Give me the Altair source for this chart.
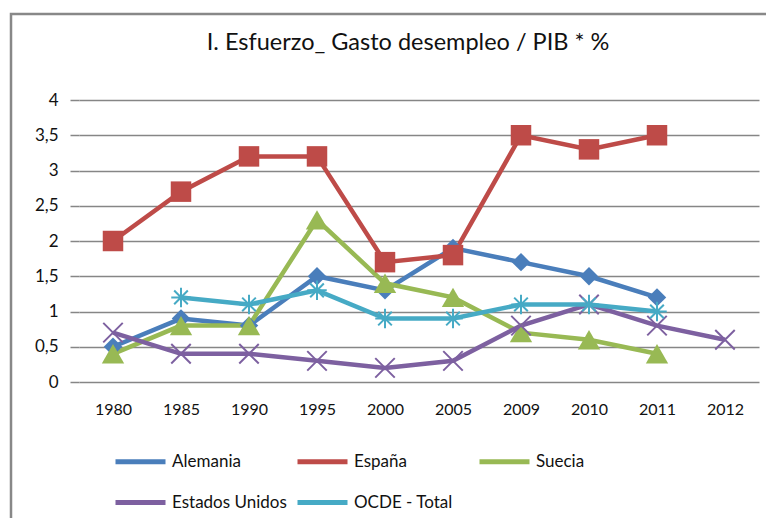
import altair as alt
import pandas as pd

years = ["1980", "1985", "1990", "1995", "2000", "2005", "2009", "2010", "2011", "2012"]
series = ["Alemania", "España", "Suecia", "Estados Unidos", "OCDE - Total"]
colors = ["#4A7EBB", "#BE4B48", "#98B954", "#7D60A0", "#46AAC5"]

alemania = [0.5, 0.9, 0.8, 1.5, 1.3, 1.9, 1.7, 1.5, 1.2, None]
espana = [2.0, 2.7, 3.2, 3.2, 1.7, 1.8, 3.5, 3.3, 3.5, None]
suecia = [0.4, 0.8, 0.8, 2.3, 1.4, 1.2, 0.7, 0.6, 0.4, None]
eeuu = [0.7, 0.4, 0.4, 0.3, 0.2, 0.3, 0.8, 1.1, 0.8, 0.6]
ocde = [None, 1.2, 1.1, 1.3, 0.9, 0.9, 1.1, 1.1, 1.0, None]

y_ticks = [0, 0.5, 1, 1.5, 2, 2.5, 3, 3.5, 4]

rows = []
for name, vals in zip(series, [alemania, espana, suecia, eeuu, ocde]):
    for i, (yr, v) in enumerate(zip(years, vals)):
        if v is not None:
            rows.append({"Año": yr, "Serie": name, "Valor": v, "orden": i})
df = pd.DataFrame(rows)

FONT = "Lato"

x_enc = alt.X("Año:N", sort=years, scale=alt.Scale(domain=years, paddingInner=0, paddingOuter=0.5),
              axis=alt.Axis(title=None, labelAngle=0, ticks=False, domain=False, grid=False,
                            labelPadding=19, labelFontSize=16, labelFont=FONT, labelColor="#111"))
y_enc = alt.Y("Valor:Q", scale=alt.Scale(domain=[0, 4], nice=False),
              axis=alt.Axis(title=None, values=y_ticks, domain=False, tickSize=9, tickColor="#868686",
                            tickWidth=1.5, gridColor="#868686", gridWidth=1.5,
                            labelExpr="replace(format(datum.value, '.1~f'), '.', ',')",
                            labelPadding=12, labelFontSize=17, labelFont=FONT, labelColor="#111"))
color_scale = alt.Scale(domain=series, range=colors)

border = alt.Chart(pd.DataFrame({"a": [0]})).mark_rect(
    fill="transparent", stroke="#888888", strokeWidth=2.5
).encode(x=alt.value(-68), x2=alt.value(1000), y=alt.value(-86), y2=alt.value(500))

lines = alt.Chart(df).mark_line(strokeWidth=4.5).encode(
    x=x_enc, y=y_enc,
    order="orden:Q",
    color=alt.Color("Serie:N", scale=color_scale, sort=series,
                    legend=alt.Legend(title=None, orient="none", legendX=34, legendY=334,
                                      direction="horizontal",
                                      columns=3, gridAlign="all", symbolType="stroke",
                                      symbolSize=2500, symbolStrokeWidth=5,
                                      labelFontSize=17, labelFont=FONT, labelColor="#111",
                                      labelOffset=4, columnPadding=0, rowPadding=3,
                                      padding=0, labelLimit=300)),
)

filled_series = ["Alemania", "España", "Suecia"]
pts_filled = alt.Chart(df).transform_filter(
    alt.FieldOneOfPredicate(field="Serie", oneOf=filled_series)
).mark_point(filled=True, opacity=1).encode(
    x=x_enc, y=y_enc,
    color=alt.Color("Serie:N", scale=color_scale, legend=None),
    shape=alt.Shape("Serie:N", scale=alt.Scale(domain=filled_series,
                                               range=["diamond", "square", "triangle-up"]), legend=None),
    size=alt.Size("Serie:N", scale=alt.Scale(domain=filled_series, range=[340, 500, 480]), legend=None),
)

stroke_series = ["Estados Unidos", "OCDE - Total"]
pts_stroke = alt.Chart(df).transform_filter(
    alt.FieldOneOfPredicate(field="Serie", oneOf=stroke_series)
).mark_point(filled=False, opacity=1, strokeWidth=2, size=380).encode(
    x=x_enc, y=y_enc,
    color=alt.Color("Serie:N", scale=color_scale, legend=None),
    shape=alt.Shape("Serie:N", scale=alt.Scale(domain=stroke_series, range=[
        "M-1,-1L1,1M-1,1L1,-1",
        "M-1,0L1,0M0,-1L0,1M-0.7,-0.7L0.7,0.7M-0.7,0.7L0.7,-0.7"]), legend=None),
)

chart = alt.layer(border, lines, pts_filled, pts_stroke).resolve_scale(
    shape="independent", size="independent"
).properties(
    width=680, height=282,
    padding={"left": 71, "top": 92, "right": 7, "bottom": 136},
    autosize=alt.AutoSizeParams(type="none"),
    title=alt.Title("I. Esfuerzo_ Gasto desempleo / PIB * %", fontSize=23.5, font=FONT,
                    fontWeight="normal", color="#111", offset=-42, dx=-11),
).configure_view(stroke=None)

chart.save("out.html", embed_options={"renderer": "svg", "actions": False})
